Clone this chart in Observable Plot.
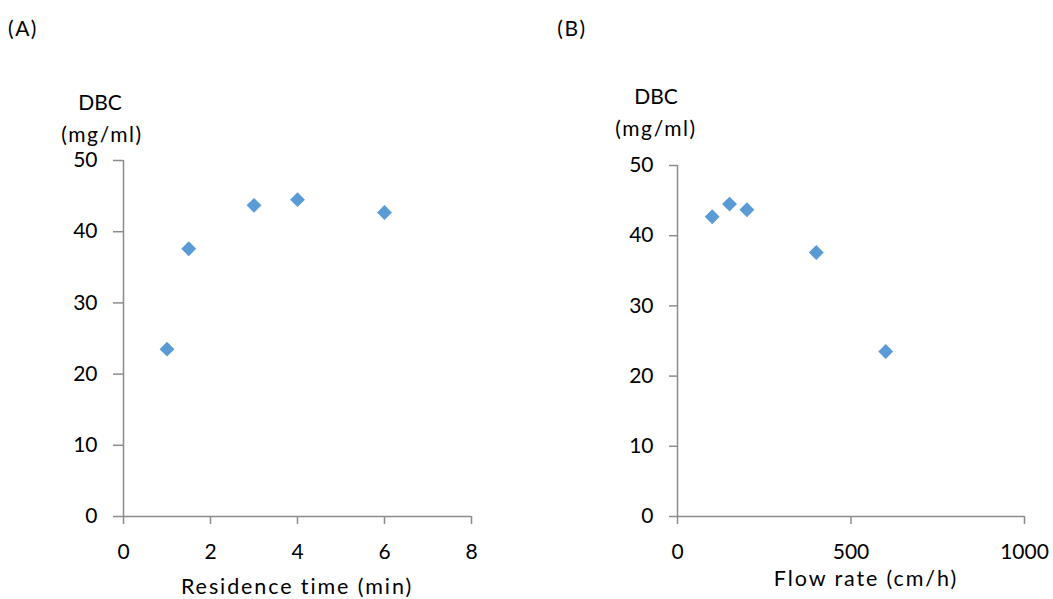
<!DOCTYPE html>
<html>
<head>
<meta charset="utf-8">
<script src="https://cdn.jsdelivr.net/npm/d3@7"></script>
<script src="https://cdn.jsdelivr.net/npm/@observablehq/plot@0.6"></script>
<style>
  html, body { margin: 0; padding: 0; background: #fff; }
  #wrap { position: relative; width: 1053px; height: 599px; font-family: Lato, "Open Sans", sans-serif; color: #000; }
  .t { position: absolute; transform: translate(-50%, -50%); white-space: nowrap; font-size: 21px; line-height: 1; }
  .p { font-size: 21px; letter-spacing: 1.5px; }
  .ax { letter-spacing: 1.9px; font-size: 21.5px; }
  .un { letter-spacing: 1.6px; }
  .svgbox { position: absolute; top: 0; }
</style>
</head>
<body>
<div id="wrap">
  <div class="t p" style="left:23px; top:27px;">(A)</div>
  <div class="t p" style="left:572px; top:27px;">(B)</div>
  <div class="t" style="left:100px; top:101px;">DBC</div>
  <div class="t un" style="left:102px; top:133px;">(mg/ml)</div>
  <div class="t" style="left:656px; top:95px;">DBC</div>
  <div class="t un" style="left:656px; top:127px;">(mg/ml)</div>
  <div class="t ax" style="left:297px; top:587px;">Residence time (min)</div>
  <div class="t ax" style="left:866px; top:579px;">Flow rate (cm/h)</div>
  <div id="a" class="svgbox" style="left:0px;"></div>
  <div id="b" class="svgbox" style="left:527px;"></div>
</div>
<script>
const residenceTime = [1, 1.5, 3, 4, 6];
const flowRate = [600, 400, 200, 150, 100];
const dbc = [23.5, 37.6, 43.7, 44.5, 42.7];
const yTicks = [0, 10, 20, 30, 40, 50];
const xTicksA = [0, 2, 4, 6, 8];
const xTicksB = [0, 500, 1000];

const axisGray = "#8c8c8c";
const markerBlue = "#5B9BD5";

function panel(xs, xDomain, xTicks, opts) {
  const data = xs.map((x, i) => ({x, y: dbc[i]}));
  return Plot.plot({
    width: opts.width,
    height: 599,
    marginLeft: opts.marginLeft,
    marginRight: opts.marginRight,
    marginTop: opts.marginTop,
    marginBottom: 83,
    x: {domain: xDomain},
    y: {domain: [0, 50]},
    style: {fontFamily: "Lato, 'Open Sans', sans-serif", fontSize: "21px", color: "#000", background: "transparent", overflow: "visible"},
    marks: [
      Plot.axisY({ticks: yTicks, tickSize: opts.yTickSize, tickPadding: 16, label: null, stroke: axisGray, strokeWidth: 1.5, fill: "#000"}),
      Plot.axisX({ticks: xTicks, tickSize: 8, tickPadding: 20, label: null, stroke: axisGray, strokeWidth: 1.5, fill: "#000", tickFormat: d => String(d)}),
      Plot.ruleX([0], {stroke: axisGray, strokeWidth: 1.5}),
      Plot.ruleY([0], {stroke: axisGray, strokeWidth: 1.5}),
      Plot.dot(data, {x: "x", y: "y", symbol: "diamond2", r: 6.7, fill: markerBlue, stroke: "none"})
    ]
  });
}

document.getElementById("a").append(panel(residenceTime, [0, 8], xTicksA, {width: 527, marginLeft: 123, marginRight: 56, marginTop: 160, yTickSize: 10}));
document.getElementById("b").append(panel(flowRate, [0, 1000], xTicksB, {width: 526, marginLeft: 150, marginRight: 29, marginTop: 165, yTickSize: 8}));
</script>
</body>
</html>
